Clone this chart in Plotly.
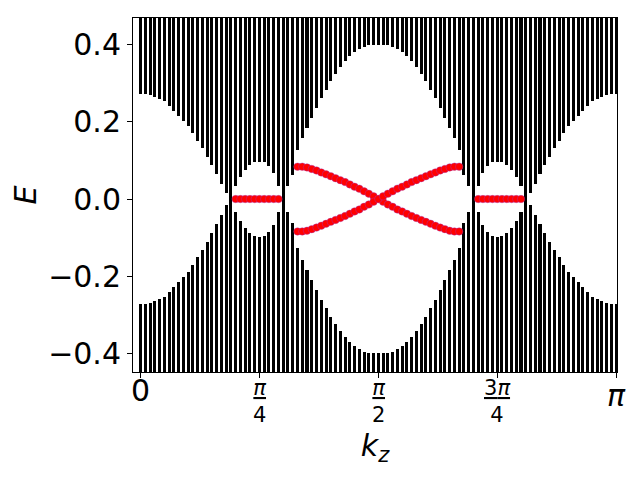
import numpy as np
import plotly.graph_objects as go

# kz grid (101 points from 0 to pi)
kz = np.linspace(0, np.pi, 101)

# lower edge of the upper bulk band for each kz (lower band is its mirror -E)
gap_edge = [
    0.272, 0.272, 0.270, 0.265, 0.259, 0.253, 0.241, 0.229, 0.216, 0.203,
    0.188, 0.171, 0.151, 0.131, 0.110, 0.087, 0.064, 0.040, 0.016, 0.000,
    0.033, 0.058, 0.076, 0.089, 0.095, 0.097, 0.095, 0.086, 0.067, 0.033,
    0.000, 0.033, 0.063, 0.127, 0.158, 0.185, 0.210, 0.236, 0.262, 0.283,
    0.305, 0.324, 0.342, 0.357, 0.370, 0.381, 0.389, 0.395, 0.398, 0.399,
    0.400,
    0.399, 0.398, 0.395, 0.389, 0.381, 0.370, 0.357, 0.342, 0.324, 0.305,
    0.283, 0.262, 0.236, 0.210, 0.185, 0.158, 0.127, 0.063, 0.033, 0.000,
    0.033, 0.067, 0.086, 0.095, 0.097, 0.095, 0.089, 0.076, 0.058, 0.033,
    0.000, 0.016, 0.040, 0.064, 0.087, 0.110, 0.131, 0.151, 0.171, 0.188,
    0.203, 0.216, 0.229, 0.241, 0.253, 0.259, 0.265, 0.270, 0.272, 0.272,
]
band_limit = 0.5  # bulk bands run past the plotted window

# edge states: flat zero modes
flat_idx = list(range(20, 30)) + list(range(71, 81))
flat_E = [0.0] * len(flat_idx)

# edge states: crossing branches
cross_idx = list(range(33, 68))
cross_up = [
    0.084, 0.084, 0.082, 0.078, 0.074, 0.069, 0.064, 0.059, 0.054, 0.049,
    0.044, 0.038, 0.032, 0.027, 0.020, 0.014, 0.007, 0.000,
    -0.007, -0.014, -0.020, -0.027, -0.032, -0.038, -0.044, -0.049, -0.054,
    -0.059, -0.064, -0.069, -0.074, -0.078, -0.082, -0.084, -0.084,
]
cross_dn = [
    -0.084, -0.084, -0.082, -0.078, -0.074, -0.069, -0.064, -0.059, -0.054, -0.049,
    -0.044, -0.038, -0.032, -0.027, -0.020, -0.014, -0.007, 0.000,
    0.007, 0.014, 0.020, 0.027, 0.032, 0.038, 0.044, 0.049, 0.054,
    0.059, 0.064, 0.069, 0.074, 0.078, 0.082, 0.084, 0.084,
]

x_ticks = [0, np.pi / 4, np.pi / 2, 3 * np.pi / 4, np.pi]
y_ticks = [-0.4, -0.2, 0.0, 0.2, 0.4]
y_labels = ["\u22120.4", "\u22120.2", "0.0", "0.2", "0.4"]

edge = np.array(gap_edge)
fig = go.Figure()

# bulk bands as black columns
fig.add_trace(go.Bar(x=kz, base=edge, y=band_limit - edge, width=0.02,
                     marker=dict(color="black", line_width=0), showlegend=False))
fig.add_trace(go.Bar(x=kz, base=-band_limit, y=band_limit - edge, width=0.02,
                     marker=dict(color="black", line_width=0), showlegend=False))

red = dict(color="#ff0000", size=7.5, line=dict(color="rgba(150,60,210,0.6)", width=0.6))
fig.add_trace(go.Scatter(x=kz[flat_idx], y=flat_E, mode="markers", marker=red, showlegend=False))
fig.add_trace(go.Scatter(x=kz[cross_idx], y=cross_up, mode="markers", marker=red, showlegend=False))
fig.add_trace(go.Scatter(x=kz[cross_idx], y=cross_dn, mode="markers", marker=red, showlegend=False))

font = "DejaVu Sans"
big = 30
small = 21

# x tick labels: 0, pi/4, pi/2, 3pi/4, pi
bar = "<span style='text-decoration:underline'>{}</span><br>{}"
x_texts = ["0", bar.format("<i>π</i>", "4"), bar.format("<i>π</i>", "2"),
           bar.format("3<i>π</i>", "4"), "<i>π</i>"]
x_sizes = [big, small, small, small, big]
x_pos = [-0.052, -0.083, -0.083, -0.083, -0.066]
for xv, txt, fs, yp in zip(x_ticks, x_texts, x_sizes, x_pos):
    fig.add_annotation(x=xv, y=yp, xref="x", yref="paper", text=txt, showarrow=False,
                       font=dict(family=font, size=fs, color="black"),
                       xanchor="center", yanchor="middle")

fig.update_xaxes(range=[-0.05, np.pi + 0.006], tickvals=x_ticks, showticklabels=False,
                 ticks="outside", ticklen=5, tickcolor="black", automargin=False,
                 showline=True, linecolor="black", linewidth=1, mirror=True,
                 showgrid=False, zeroline=False,
                 title=dict(text="<i>k</i><sub><i>z</i></sub>", standoff=57,
                            font=dict(family=font, size=big, color="black")))
fig.update_yaxes(range=[-0.448, 0.469], tickvals=y_ticks, ticktext=y_labels,
                 ticks="outside", ticklen=5, tickcolor="black", automargin=False,
                 tickfont=dict(family=font, size=big, color="black"),
                 showline=True, linecolor="black", linewidth=1, mirror=True,
                 showgrid=False, zeroline=False,
                 title=dict(text="<i>E</i>", standoff=12,
                            font=dict(family=font, size=big, color="black")))
# page body adds an 8px offset, so margins are shifted by that amount
fig.update_layout(width=640, height=480, barmode="overlay", bargap=0,
                  margin=dict(l=125, r=31, t=10, b=116),
                  plot_bgcolor="white", paper_bgcolor="white",
                  font=dict(family=font, color="black"))

fig.write_html("out.html")
